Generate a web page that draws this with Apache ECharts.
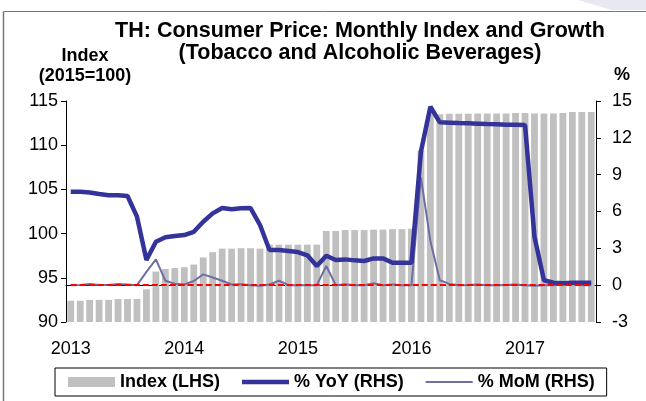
<!DOCTYPE html>
<html>
<head>
<meta charset="utf-8">
<title>TH: Consumer Price - Tobacco and Alcoholic Beverages</title>
<script src="https://cdn.jsdelivr.net/npm/echarts@6.0.0/dist/echarts.min.js"></script>
<style>
  html, body { margin: 0; padding: 0; background: #fff; }
  #chart { width: 646px; height: 401px; }
</style>
</head>
<body>
<div id="chart"></div>
<script>
// monthly, Jan 2013 - Aug 2017
const months = [
  '2013-01', '2013-02', '2013-03', '2013-04', '2013-05', '2013-06', '2013-07', '2013-08', '2013-09', '2013-10', '2013-11', '2013-12',
  '2014-01', '2014-02', '2014-03', '2014-04', '2014-05', '2014-06', '2014-07', '2014-08', '2014-09', '2014-10', '2014-11', '2014-12',
  '2015-01', '2015-02', '2015-03', '2015-04', '2015-05', '2015-06', '2015-07', '2015-08', '2015-09', '2015-10', '2015-11', '2015-12',
  '2016-01', '2016-02', '2016-03', '2016-04', '2016-05', '2016-06', '2016-07', '2016-08', '2016-09', '2016-10', '2016-11', '2016-12',
  '2017-01', '2017-02', '2017-03', '2017-04', '2017-05', '2017-06', '2017-07', '2017-08'
]

// index, 2015=100 (LHS)
const indexVals = [
  92.4, 92.4, 92.5, 92.5, 92.5, 92.6, 92.6, 92.6, 93.7, 95.7, 96.0, 96.1,
  96.2, 96.5, 97.3, 97.9, 98.3, 98.3, 98.35, 98.35, 98.3, 98.75, 98.75, 98.75,
  98.75, 98.75, 98.75, 100.3, 100.3, 100.4, 100.4, 100.4, 100.45, 100.45, 100.5, 100.5,
  100.55, 109.4, 113.55, 113.5, 113.55, 113.55, 113.55, 113.6, 113.6, 113.6, 113.6, 113.65,
  113.65, 113.6, 113.6, 113.6, 113.65, 113.75, 113.75, 113.75
]

// % YoY (RHS)
const yoyVals = [
  7.6, 7.6, 7.55, 7.42, 7.32, 7.32, 7.26, 5.58, 2.05, 3.54, 3.9, 4.0,
  4.08, 4.35, 5.17, 5.85, 6.28, 6.18, 6.26, 6.28, 4.9, 2.86, 2.86, 2.78,
  2.7, 2.43, 1.56, 2.4, 2.05, 2.1, 2.02, 1.97, 2.18, 2.18, 1.83, 1.83,
  1.83, 10.87, 14.53, 13.26, 13.23, 13.2, 13.18, 13.15, 13.12, 13.1, 13.07, 13.07,
  13.05, 3.95, 0.4, 0.2, 0.15, 0.2, 0.2, 0.2
]

// % MoM (RHS)
const momVals = [
  0, 0.02, 0.1, 0.02, 0.02, 0.1, 0.05, 0, 1.08, 2.1, 0.36, 0.12,
  0.05, 0.34, 0.88, 0.62, 0.36, 0.05, 0.08, 0, -0.05, 0.05, 0.36, 0,
  0, 0, 0, 1.56, 0, 0.08, 0, 0, 0.15, 0, 0.05, 0,
  0, 8.78, 3.6, 0.4, 0.1, 0, 0.02, 0.05, 0, 0, 0.02, 0.05,
  0, -0.05, 0, 0, 0.05, 0.1, 0, 0
]

const FONT = "'Liberation Sans', Arial, sans-serif"

const chartDom = echarts.init(document.getElementById('chart'))
const option = {
  animation: false,
  backgroundColor: '#fff',
  textStyle: { fontFamily: FONT },
  title: [
    {
      text: 'TH: Consumer Price: Monthly Index and Growth\n(Tobacco and Alcoholic Beverages)',
      left: 360,
      top: 20,
      padding: 0,
      textAlign: 'center',
      textStyle: { fontFamily: FONT, fontSize: 21.5, fontWeight: 'bold', color: '#000', lineHeight: 22, align: 'center' }
    },
    {
      text: 'Index\n(2015=100)',
      left: 85,
      top: 46,
      padding: 0,
      textAlign: 'center',
      textStyle: { fontFamily: FONT, fontSize: 18, fontWeight: 'bold', color: '#000', lineHeight: 20, align: 'center' }
    },
    {
      text: '%',
      left: 622,
      top: 66,
      padding: 0,
      textAlign: 'center',
      textStyle: { fontFamily: FONT, fontSize: 18, fontWeight: 'bold', color: '#000' }
    }
  ],
  graphic: [
    { type: 'polygon', shape: { points: [[578, 0], [646, 0], [646, 10], [612, 10]] }, style: { fill: '#e8e8f3' }, silent: true },
    { type: 'line', shape: { x1: 3.5, y1: 11.5, x2: 646, y2: 11.5 }, style: { stroke: '#777', lineWidth: 1 }, silent: true },
    { type: 'line', shape: { x1: 3.5, y1: 11.5, x2: 3.5, y2: 401 }, style: { stroke: '#777', lineWidth: 1.5 }, silent: true }
  ],
  legend: {
    left: 55,
    top: 368,
    padding: [5, 12, 5, 13],
    borderColor: '#000',
    borderWidth: 1,
    itemWidth: 47,
    itemHeight: 10,
    itemGap: 22,
    textStyle: { fontFamily: FONT, fontSize: 18, fontWeight: 'bold', color: '#000' },
    data: [
      { name: 'Index (LHS)', icon: 'rect' },
      { name: '% YoY (RHS)', icon: 'path://M0,0H47V4.5H0Z' },
      { name: '% MoM (RHS)', icon: 'path://M0,0H47V1.8H0Z' }
    ]
  },
  grid: { left: 66, right: 50, top: 101, bottom: 79 },
  xAxis: {
    type: 'category',
    data: months,
    boundaryGap: true,
    axisLine: { lineStyle: { color: '#000', width: 1 } },
    axisTick: { interval: 11, length: 5, lineStyle: { color: '#000' } },
    axisLabel: {
      interval: 11,
      margin: 18,
      fontFamily: FONT,
      fontSize: 18,
      color: '#000',
      formatter: function(v) {
        return v.slice(0, 4)
      }
    },
    splitLine: { show: false }
  },
  yAxis: [
    {
      type: 'value',
      min: 90,
      max: 115,
      interval: 5,
      axisLine: { show: true, lineStyle: { color: '#000' } },
      axisTick: { show: true, length: 5, lineStyle: { color: '#000' } },
      axisLabel: { margin: 8, fontFamily: FONT, fontSize: 18, color: '#000' },
      splitLine: { show: false }
    },
    {
      type: 'value',
      min: -3,
      max: 15,
      interval: 3,
      position: 'right',
      axisLine: { show: true, lineStyle: { color: '#000' } },
      axisTick: { show: true, length: 5, lineStyle: { color: '#000' } },
      axisLabel: { margin: 16, fontFamily: FONT, fontSize: 18, color: '#000' },
      splitLine: { show: false }
    }
  ],
  series: [
    {
      name: 'Index (LHS)',
      type: 'bar',
      yAxisIndex: 0,
      data: indexVals,
      barCategoryGap: '28%',
      itemStyle: { color: '#c0c0c0' },
      z: 1
    },
    {
      name: '% MoM (RHS)',
      type: 'line',
      yAxisIndex: 1,
      data: momVals,
      symbol: 'none',
      lineStyle: { color: '#6f6fa6', width: 2 },
      itemStyle: { color: '#6f6fa6' },
      z: 3,
      // zero reference line across the data span
      markLine: {
        silent: true,
        symbol: 'none',
        label: { show: false },
        lineStyle: { color: '#ff0000', width: 2, type: [6, 3] },
        z: 6,
        data: [
          [{ coord: [months[0], 0] }, { coord: [months[months.length - 1], 0] }]
        ]
      }
    },
    {
      name: '% YoY (RHS)',
      type: 'line',
      yAxisIndex: 1,
      data: yoyVals,
      symbol: 'none',
      lineStyle: { color: '#333399', width: 4.5 },
      itemStyle: { color: '#333399' },
      z: 4
    }
  ]
}
chartDom.setOption(option)
</script>
</body>
</html>
